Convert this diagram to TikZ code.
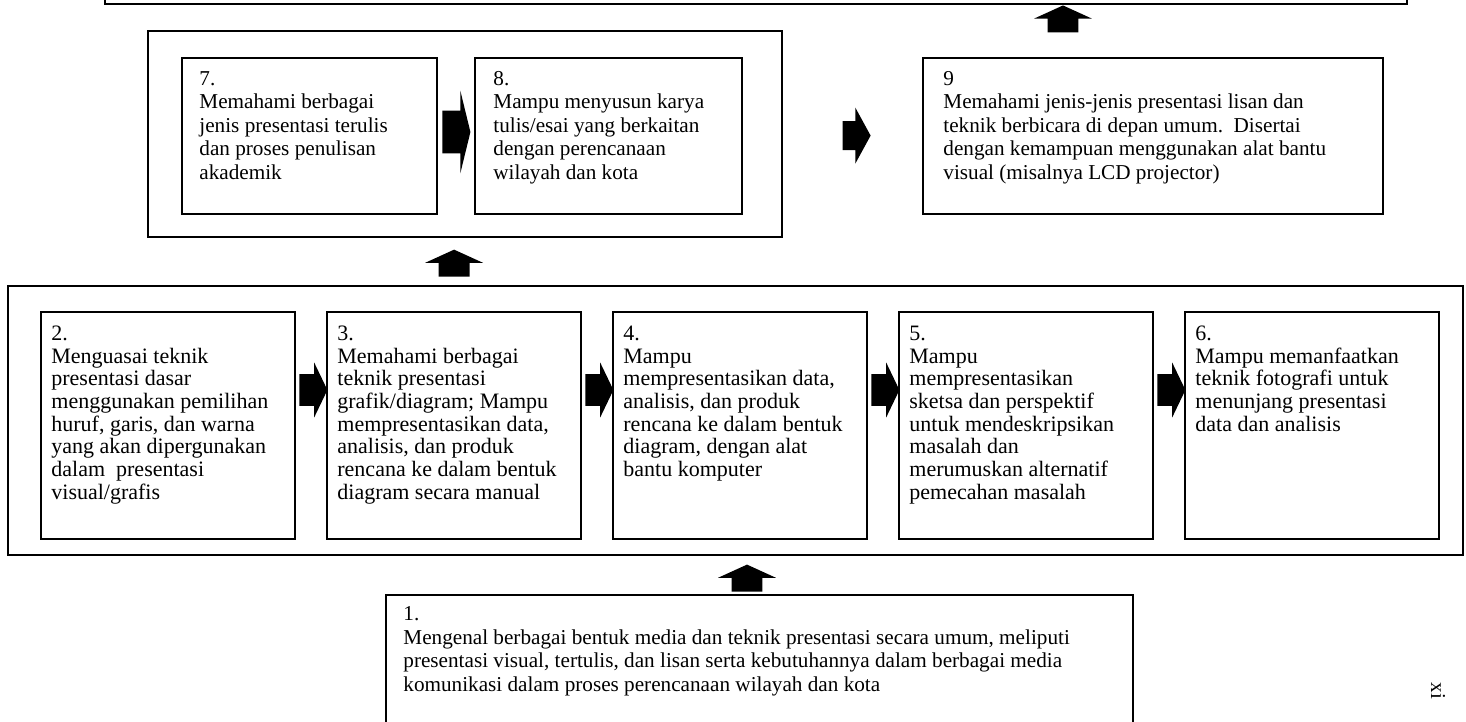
\documentclass[tikz,border=0pt]{standalone}
\usepackage{fontspec}
\setmainfont{Liberation Serif}
\usepackage{tikz}
\usetikzlibrary{shapes,shapes.arrows,positioning}
\tikzstyle{outerbox} = [rectangle, draw=black, line width=1.1pt, inner sep=0pt]
\tikzstyle{stage} = [rectangle, draw=black, line width=1pt, inner sep=0pt]
\tikzstyle{stagetext} = [anchor=north west, align=left, inner sep=0pt, font=\fontsize{10.6pt}{11.75pt}\selectfont]
\tikzstyle{lowtext} = [stagetext, font=\fontsize{11pt}{11.35pt}\selectfont]
\tikzstyle{rarrow} = [single arrow, fill=black, inner xsep=0pt, inner ysep=7.75pt, minimum width=0pt, minimum height=14pt, single arrow head extend=5.75pt, single arrow tip angle=128.6]
\tikzstyle{uparrow} = [single arrow, fill=black, rotate=90, inner xsep=0pt, inner ysep=7.5pt, minimum width=0pt, minimum height=13.5pt, single arrow head extend=6.75pt, single arrow tip angle=131]

\begin{document}
\begin{tikzpicture}
\useasboundingbox (0,0) rectangle (733pt,-361pt);
\clip (0,0) rectangle (733pt,-361pt);

% Top box (only its lower edge shows)
\node (top) [outerbox, minimum width=651pt, minimum height=40pt, anchor=south] at (378pt,-2.5pt) {};
\node (atop) [uparrow, anchor=tip] at ([xshift=153.5pt]top.south) {};

% Stages 7 and 8
\node (grp) [outerbox, minimum width=317pt, minimum height=103pt, anchor=north west] at (73.5pt,-15pt) {};
\node (b7) [stage, minimum width=127.5pt, minimum height=78pt, anchor=north west] at (90.5pt,-28.5pt) {};
\node (b8) [stage, minimum width=133.5pt, minimum height=78pt, right=18pt of b7] {};
\node (a78) [rarrow, inner ysep=10.5pt, single arrow head extend=10pt, single arrow tip angle=152.6, right=2pt of b7, yshift=2pt] {};
\node (t7) [stagetext] at ([xshift=9pt,yshift=-7pt]b7.north west) {7.\\ Memahami berbagai\\ jenis presentasi terulis\\ dan proses penulisan\\ akademik};
\node (t8) [stagetext] at ([xshift=9.5pt,yshift=-7pt]b8.north west) {8.\\ Mampu menyusun karya\\ tulis/esai yang berkaitan\\ dengan perencanaan\\ wilayah dan kota};

% Stage 9
\node (a89) [rarrow, inner ysep=7pt, single arrow head extend=6.75pt, single arrow tip angle=122.8, right=29.5pt of grp, yshift=-0.75pt] {};
\node (b9) [stage, minimum width=230pt, minimum height=78pt, anchor=north west] at (461pt,-28.5pt) {};
\node (t9) [stagetext] at ([xshift=10.5pt,yshift=-7pt]b9.north west) {9\\ Memahami jenis-jenis presentasi lisan dan\\ teknik berbicara di depan umum.\ \ Disertai\\ dengan kemampuan menggunakan alat bantu\\ visual (misalnya LCD projector)};

\node (agrp) [uparrow, anchor=tip] at ([xshift=-5.5pt,yshift=-5.5pt]grp.south) {};

% Stages 2 to 6
\node (mid) [outerbox, minimum width=727.5pt, minimum height=134.5pt, anchor=north west] at (3.5pt,-142.5pt) {};
\node (b2) [stage, minimum width=127pt, minimum height=113.5pt, anchor=north west] at (20pt,-155.5pt) {};
\node (b3) [stage, minimum width=127pt, minimum height=113.5pt, right=15pt of b2] {};
\node (b4) [stage, minimum width=127pt, minimum height=113.5pt, right=15pt of b3] {};
\node (b5) [stage, minimum width=127pt, minimum height=113.5pt, right=15pt of b4] {};
\node (b6) [stage, minimum width=127pt, minimum height=113.5pt, right=15pt of b5] {};

\node (a23) [rarrow, right=1.5pt of b2, yshift=17.75pt] {};
\node (a34) [rarrow, right=1.5pt of b3, yshift=17.75pt] {};
\node (a45) [rarrow, right=1.5pt of b4, yshift=17.75pt] {};
\node (a56) [rarrow, right=1.5pt of b5, yshift=17.75pt] {};

\node (t2) [lowtext] at ([xshift=5.5pt,yshift=-7.25pt]b2.north west) {2.\\ Menguasai teknik\\ presentasi dasar\\ menggunakan pemilihan\\ huruf, garis, dan warna\\ yang akan dipergunakan\\ dalam\ \ presentasi\\ visual/grafis};
\node (t3) [lowtext] at ([xshift=5.5pt,yshift=-7.25pt]b3.north west) {3.\\ Memahami berbagai\\ teknik presentasi\\ grafik/diagram; Mampu\\ mempresentasikan data,\\ analisis, dan produk\\ rencana ke dalam bentuk\\ diagram secara manual};
\node (t4) [lowtext] at ([xshift=5.5pt,yshift=-7.25pt]b4.north west) {4.\\ Mampu\\ mempresentasikan data,\\ analisis, dan produk\\ rencana ke dalam bentuk\\ diagram, dengan alat\\ bantu komputer};
\node (t5) [lowtext] at ([xshift=5.5pt,yshift=-7.25pt]b5.north west) {5.\\ Mampu\\ mempresentasikan\\ sketsa dan perspektif\\ untuk mendeskripsikan\\ masalah dan\\ merumuskan alternatif\\ pemecahan masalah};
\node (t6) [lowtext] at ([xshift=5.5pt,yshift=-7.25pt]b6.north west) {6.\\ Mampu memanfaatkan\\ teknik fotografi untuk\\ menunjang presentasi\\ data dan analisis};

% Stage 1
\node (b1) [stage, minimum width=373.5pt, minimum height=80pt, anchor=north west] at (192.5pt,-297pt) {};
\node (a1) [uparrow, anchor=tail] at ([xshift=-6.25pt,yshift=1pt]b1.north) {};
\node (t1) [stagetext, font=\fontsize{10.6pt}{11.85pt}\selectfont] at ([xshift=9pt,yshift=-6pt]b1.north west) {1.\\ Mengenal berbagai bentuk media dan teknik presentasi secara umum, meliputi\\ presentasi visual, tertulis, dan lisan serta kebutuhannya dalam berbagai media\\ komunikasi dalam proses perencanaan wilayah dan kota};

% Page number
\node (pg) [font=\fontsize{10.6pt}{11.4pt}\selectfont, rotate=-90, inner sep=0pt] at (719pt,-345.5pt) {xi};
\end{tikzpicture}
\end{document}
